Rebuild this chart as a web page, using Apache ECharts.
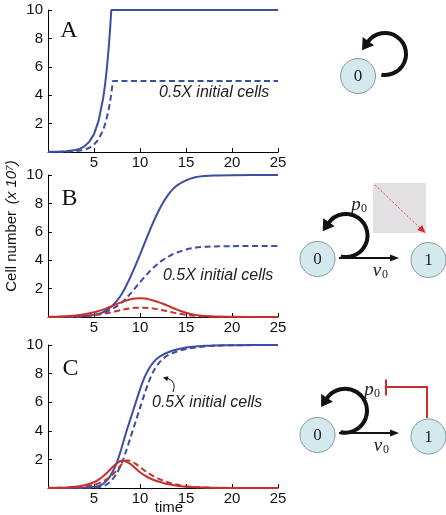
<!DOCTYPE html>
<html><head><meta charset="utf-8">
<script src="https://cdn.jsdelivr.net/npm/echarts@6/dist/echarts.min.js"></script>
<style>html,body{margin:0;padding:0;background:#fff}#c{width:446px;height:515px}</style>
</head><body><div id="c"></div><script>
// ---- data ----
const xTickLabels = ['', '5', '10', '15', '20', '25'];
const yTickLabels = ['', '2', '4', '6', '8', '10'];
const annotation = '0.5X initial cells';
// Panel A
const tA1 = [0,1,2,3,3.5,4,4.5,5,5.5,6,6.2,6.4,6.6,6.75,6.88,25];
const aSolid = [0.01,0.015,0.05,0.14,0.24,0.42,0.73,1.26,2.19,3.8,4.73,5.9,7.35,8.67,10,10];
const tA2 = [0,1,2,3,3.5,4,4.5,5,5.5,6,6.3,6.6,6.85,7.06,25];
const aDash = [0.002,0.006,0.019,0.057,0.1,0.17,0.3,0.52,0.9,1.55,2.16,3.0,3.97,5,5];
// Panel B
const tB = [0,1,2,3,4,5,5.5,6,6.5,7,7.5,8,8.5,9,9.5,10,10.5,11,11.5,12,12.5,13,13.5,14,15,16,17,18,20,25];
const bBlue = [0,0.005,0.01,0.03,0.07,0.15,0.22,0.35,0.55,0.8,1.15,1.6,2.2,2.88,3.62,4.4,5.2,6.0,6.76,7.45,8.05,8.55,8.95,9.25,9.62,9.84,9.93,9.97,9.99,10];
const bBlueDash = [0,0.003,0.01,0.025,0.05,0.12,0.2,0.3,0.42,0.58,0.77,1.0,1.32,1.68,2.06,2.45,2.83,3.18,3.5,3.78,4.02,4.22,4.4,4.54,4.75,4.88,4.94,4.97,4.99,5];
const bRed = [0.01,0.02,0.05,0.1,0.2,0.33,0.42,0.52,0.65,0.78,0.92,1.05,1.16,1.25,1.3,1.32,1.3,1.24,1.15,1.05,0.93,0.8,0.66,0.52,0.3,0.15,0.07,0.03,0.01,0];
const bRedDash = [0.005,0.01,0.02,0.04,0.08,0.14,0.18,0.22,0.28,0.35,0.42,0.5,0.57,0.62,0.65,0.66,0.65,0.63,0.59,0.54,0.47,0.4,0.33,0.26,0.15,0.08,0.04,0.02,0.005,0];
// Panel C
const tC = [0,1,2,3,4,5,5.5,6,6.5,7,7.5,8,8.5,9,9.5,10,10.5,11,11.5,12,12.5,13,14,15,16,17,18,20,25];
const cBlue = [0,0.002,0.005,0.01,0.03,0.08,0.15,0.3,0.6,1.1,1.8,2.8,3.9,4.9,5.9,6.9,7.75,8.38,8.82,9.12,9.33,9.48,9.68,9.82,9.9,9.94,9.97,9.99,10];
const cBlueDash = [0,0.001,0.002,0.005,0.01,0.03,0.06,0.13,0.3,0.6,1.05,1.7,2.6,3.6,4.6,5.6,6.6,7.5,8.2,8.7,9.03,9.27,9.55,9.72,9.83,9.9,9.94,9.98,10];
const tCr = [0,1,2,3,4,5,5.5,6,6.5,7,7.5,7.75,8,8.25,8.5,8.75,9,9.5,10,10.5,11,11.5,12,12.5,13,14,15,16,17,18,20,25];
const cRed = [0.01,0.02,0.04,0.09,0.2,0.4,0.58,0.82,1.12,1.45,1.74,1.85,1.91,1.9,1.84,1.76,1.66,1.38,1.1,0.88,0.7,0.56,0.45,0.36,0.28,0.16,0.09,0.05,0.03,0.015,0.005,0];
const cRedDash = [0.005,0.01,0.02,0.05,0.11,0.22,0.32,0.47,0.66,0.92,1.25,1.45,1.65,1.82,1.92,1.93,1.88,1.7,1.45,1.22,1.01,0.82,0.66,0.52,0.41,0.24,0.13,0.07,0.04,0.02,0.005,0];

// ---- styles ----
const BLUE = '#3b4ea0', RED = '#c8302f';
const FONT = 'Liberation Sans';
const SERIF = 'Liberation Serif';
const grids = [
  {left:48, top:10, width:230, height:142},
  {left:48, top:175, width:230, height:142},
  {left:48, top:345, width:230, height:143}
];
function xAx(i){return {type:'value', gridIndex:i, min:0, max:25, interval:5,
  axisLine:{show:true, lineStyle:{color:'#000', width:1}},
  axisTick:{show:true, inside:true, length:4, lineStyle:{color:'#000'}},
  axisLabel:{formatter:(v)=>xTickLabels[v/5], color:'#111', fontSize:15, fontFamily:FONT, margin:3},
  splitLine:{show:false}};}
function yAx(i){return {type:'value', gridIndex:i, min:0, max:10, interval:2,
  axisLine:{show:true, lineStyle:{color:'#000', width:1}},
  axisTick:{show:true, inside:true, length:4, lineStyle:{color:'#000'}},
  axisLabel:{formatter:(v)=>yTickLabels[v/2], color:'#111', fontSize:15, fontFamily:FONT, margin:5},
  splitLine:{show:false}};}
function pair(t, v){return t.map((x,i)=>[x, v[i]]);}
function ser(i, t, v, color, dashed, smooth){
  return {type:'line', xAxisIndex:i, yAxisIndex:i, data:pair(t,v), showSymbol:false, symbol:'none',
    smooth: smooth, silent:true, animation:false,
    lineStyle:{color:color, width:2, type: dashed ? [6,3.5] : 'solid'}};
}
const series = [
  ser(0, tA1, aSolid, BLUE, false, false),
  ser(0, tA2, aDash, BLUE, true, false),
  ser(1, tB, bBlue, BLUE, false, 0.3),
  ser(1, tB, bBlueDash, BLUE, true, 0.3),
  ser(1, tB, bRed, RED, false, 0.3),
  ser(1, tB, bRedDash, RED, true, 0.3),
  ser(2, tC, cBlue, BLUE, false, 0.3),
  ser(2, tC, cBlueDash, BLUE, true, 0.3),
  ser(2, tCr, cRed, RED, false, 0.3),
  ser(2, tCr, cRedDash, RED, true, 0.3)
];

// ---- diagram graphics ----
const G = [];
const D = Math.PI/180;
function head(tx, ty, dx, dy, L, W, color){
  const n = Math.hypot(dx,dy); dx/=n; dy/=n;
  const bx = tx - L*dx, by = ty - L*dy;
  G.push({type:'polygon', shape:{points:[[tx,ty],[bx - W*dy, by + W*dx],[bx + W*dy, by - W*dx]]}, style:{fill:color}});
}
function loop(cx, cy, r, a0, a1){
  G.push({type:'arc', shape:{cx:cx, cy:cy, r:r, startAngle:(a1-360)*D, endAngle:a0*D, clockwise:true},
    style:{stroke:'#111', lineWidth:4, fill:'none'}});
  const th = a1*D;
  const bx = cx + r*Math.cos(th), by = cy + r*Math.sin(th);
  const dx = Math.sin(th), dy = -Math.cos(th);
  head(bx + 10*dx, by + 10*dy, dx, dy, 11, 7, '#111');
}
function circ(cx, cy, label){
  G.push({type:'circle', shape:{cx:cx, cy:cy, r:17.5}, style:{fill:'#d3e9ee', stroke:'#8a9a9e', lineWidth:1}});
  G.push({type:'text', x:cx, y:cy+1, style:{text:label, fill:'#222', font:'17px "'+SERIF+'"', align:'center', verticalAlign:'middle'}});
}
function arrowR(x0, x1, y){
  G.push({type:'line', shape:{x1:x0, y1:y, x2:x1-6, y2:y}, style:{stroke:'#111', lineWidth:2}});
  head(x1, y, 1, 0, 9, 3.5, '#111');
}
function sub(letter, x, y){
  G.push({type:'text', x:x, y:y, style:{text:letter, fill:'#222', font:'italic 19px "'+SERIF+'"', align:'center', verticalAlign:'middle'}});
  G.push({type:'text', x:x+8, y:y+4, style:{text:'0', fill:'#222', font:'12px "'+SERIF+'"', align:'center', verticalAlign:'middle'}});
}
// Panel A diagram
circ(358, 76, '0');
loop(385, 54, 21, 100, 215);
// Panel B diagram
circ(317.5, 259, '0');
circ(428.5, 260, '1');
loop(346, 235.5, 21.5, 104, 215);
arrowR(339, 399, 258);
G.push({type:'rect', shape:{x:373, y:183, width:53, height:50}, style:{fill:'#e2e0e2'}});
G.push({type:'line', shape:{x1:375, y1:185, x2:420, y2:228}, style:{stroke:'#d04a4a', lineWidth:1, lineDash:[2,2]}});
head(425.5, 233, 1, 0.955, 8, 3.5, '#d0302f');
sub('p', 356, 205);
sub('v', 377, 271);
// Panel C diagram
circ(317.5, 435, '0');
circ(428.5, 436.5, '1');
loop(345, 410.7, 22, 102, 213);
arrowR(339, 399, 433);
G.push({type:'polyline', shape:{points:[[427,418],[427,387],[386,387]]}, style:{stroke:RED, lineWidth:2, fill:'none'}});
G.push({type:'line', shape:{x1:386, y1:379.5, x2:386, y2:395.5}, style:{stroke:RED, lineWidth:2}});
sub('p', 369, 390);
sub('v', 378, 446);

// panel letters
[['A',69,31],['B',69.5,198.5],['C',70.5,369]].forEach(a=>{
  G.push({type:'text', x:a[1], y:a[2], style:{text:a[0], fill:'#111', font:'24px "'+SERIF+'"', align:'center', verticalAlign:'middle'}});
});
// annotations
[[159,93],[163,276],[152,403]].forEach(p=>{
  G.push({type:'text', x:p[0], y:p[1], style:{text:annotation, fill:'#222', font:'italic 16px "'+FONT+'"', align:'left', verticalAlign:'middle'}});
});
// curved arrow in C
G.push({type:'bezierCurve', shape:{x1:173, y1:392, x2:168, y2:378.5, cpx1:177, cpy1:382}, style:{stroke:'#111', lineWidth:1, fill:'none'}});
head(163, 377.5, -1, -0.25, 5, 2.5, '#111');
// time label
G.push({type:'text', x:169, y:508, style:{text:'time', fill:'#111', font:'15px "'+FONT+'"', align:'center', verticalAlign:'middle'}});
// y-axis label
G.push({type:'text', x:12, y:226, rotation:Math.PI/2,
  style:{text:'{a|Cell number}  {b|(x 10⁷)}', align:'center', verticalAlign:'middle', fill:'#111',
    rich:{a:{fontSize:15, fontFamily:FONT, fill:'#111'}, b:{fontSize:15, fontFamily:FONT, fontStyle:'italic', fill:'#111'}}}});

const chart = echarts.init(document.getElementById('c'), null, {renderer:'canvas'});
chart.setOption({
  animation:false,
  backgroundColor:'#fff',
  grid: grids,
  xAxis: [xAx(0), xAx(1), xAx(2)],
  yAxis: [yAx(0), yAx(1), yAx(2)],
  series: series,
  graphic: {elements: G}
});
</script></body></html>
